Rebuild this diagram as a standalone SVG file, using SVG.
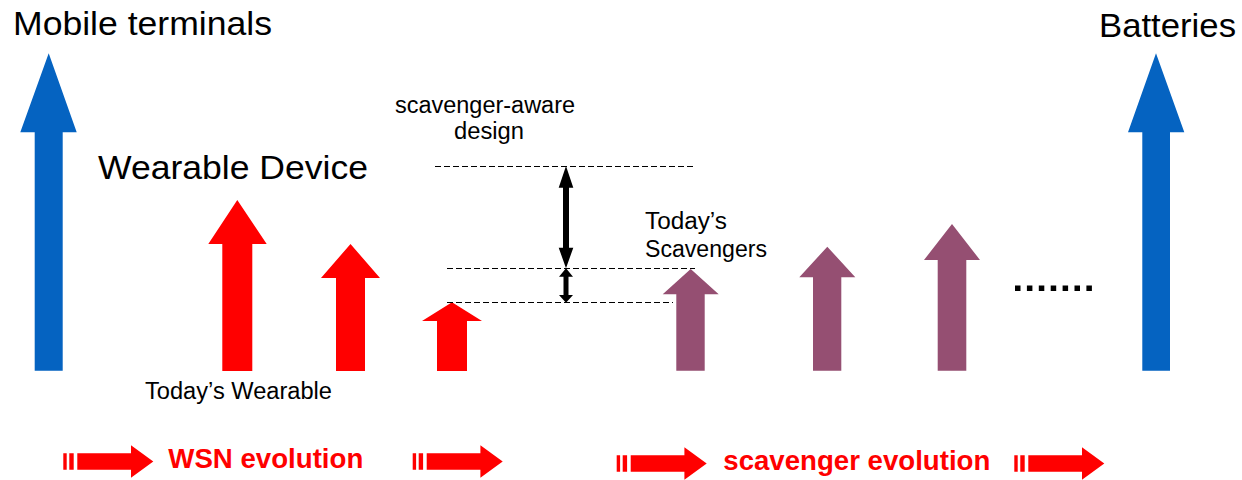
<svg xmlns="http://www.w3.org/2000/svg" width="1242" height="480" viewBox="0 0 1242 480">
  <style>
    .big { font-family: "Liberation Sans", Arial, sans-serif; font-size: 33px; fill: #000; }
    .small { font-family: "Liberation Sans", Arial, sans-serif; font-size: 23px; fill: #000; }
    .evo { font-family: "Liberation Sans", Arial, sans-serif; font-size: 28px; font-weight: bold; fill: #FF0000; }
    .blue { fill: #0563C1; }
    .red { fill: #FF0000; }
    .purple { fill: #954F72; }
    .dash { stroke: #000; stroke-width: 1; stroke-dasharray: 6 3; fill: none; }
    .dim { fill: #000; }
  </style>
  <defs>
    <!-- striped right arrow, origin at left edge of first stripe, vertical centre at 0 -->
    <path id="striped" d="M0,-8.3 H3.4 V8.3 H0 Z M6,-8.3 H10.4 V8.3 H6 Z M14,-8.3 H67.7 V-16.3 L90,0 L67.7,16.3 V8.3 H14 Z"/>
  </defs>

  <!-- reference technologies -->
  <g id="mobile-terminals">
    <polygon class="blue" points="48.7,53.3 76.7,132.3 62.7,132.3 62.7,370.7 34.7,370.7 34.7,132.3 20.3,132.3"/>
    <text class="big" x="13" y="34.5" textLength="259" lengthAdjust="spacingAndGlyphs">Mobile terminals</text>
  </g>
  <g id="batteries">
    <polygon class="blue" points="1156,53.3 1184.3,132.3 1170,132.3 1170,370.7 1142.3,370.7 1142.3,132.3 1128,132.3"/>
    <text class="big" x="1099" y="37" textLength="137" lengthAdjust="spacingAndGlyphs">Batteries</text>
  </g>

  <!-- wearable device demand, shrinking -->
  <g id="wearable-device">
    <polygon class="red" points="237.3,200 266.7,244 252.3,244 252.3,371 222.3,371 222.3,244 208.3,244"/>
    <text class="big" x="98" y="178.5" textLength="270" lengthAdjust="spacingAndGlyphs">Wearable Device</text>
    <text class="small" x="145" y="399" textLength="187" lengthAdjust="spacingAndGlyphs">Today’s Wearable</text>
  </g>
  <g id="wearable-2">
    <polygon class="red" points="350.5,244 380,278 365,278 365,371 336,371 336,278 321,278"/>
  </g>
  <g id="wearable-3">
    <polygon class="red" points="452,302.3 482,321 467,321 467,371 437,371 437,321 422,321"/>
  </g>

  <!-- scavenger supply, growing -->
  <g id="scavenger-1">
    <polygon class="purple" points="690.7,269 718.7,294.3 704.7,294.3 704.7,370.7 676.3,370.7 676.3,294.3 662.7,294.3"/>
    <text class="small" x="645" y="229" textLength="82" lengthAdjust="spacingAndGlyphs">Today’s</text>
    <text class="small" x="645" y="257" textLength="122" lengthAdjust="spacingAndGlyphs">Scavengers</text>
  </g>
  <g id="scavenger-2">
    <polygon class="purple" points="827.3,246.7 855.3,277.3 841.3,277.3 841.3,370.7 813,370.7 813,277.3 799.3,277.3"/>
  </g>
  <g id="scavenger-3">
    <polygon class="purple" points="952,224 980,260 966.3,260 966.3,370.7 937.7,370.7 937.7,260 924,260"/>
  </g>
  <g id="ellipsis">
    <rect x="1015" y="285.5" width="5.5" height="5.5"/>
    <rect x="1026.9" y="285.5" width="5.5" height="5.5"/>
    <rect x="1038.8" y="285.5" width="5.5" height="5.5"/>
    <rect x="1050.7" y="285.5" width="5.5" height="5.5"/>
    <rect x="1062.6" y="285.5" width="5.5" height="5.5"/>
    <rect x="1074.5" y="285.5" width="5.5" height="5.5"/>
    <rect x="1086.4" y="285.5" width="5.5" height="5.5"/>
  </g>

  <g id="scavenger-aware-design">
    <text class="small" x="395" y="113" textLength="180" lengthAdjust="spacingAndGlyphs">scavenger-aware</text>
    <text class="small" x="454" y="139" textLength="70" lengthAdjust="spacingAndGlyphs">design</text>
  </g>

  <!-- level guides and gap dimensions -->
  <g id="connectors">
    <line class="dash" x1="435" y1="166.5" x2="693" y2="166.5"/>
    <line class="dash" x1="447" y1="268.5" x2="695" y2="268.5"/>
    <line class="dash" x1="447" y1="302.5" x2="673" y2="302.5"/>
    <polygon class="dim" points="566,166 573.3,187.7 569,187.7 569,247.7 573.3,247.7 566,268.3 558.7,247.7 563,247.7 563,187.7 558.7,187.7"/>
    <polygon class="dim" points="566,268.3 573,276.7 568.5,276.7 568.5,295 573,295 566,302.7 559,295 563.5,295 563.5,276.7 559,276.7"/>
  </g>

  <!-- evolution timeline -->
  <g id="wsn-evolution">
    <use href="#striped" class="red" transform="translate(63.3,461.5)"/>
    <text class="evo" x="168.3" y="467.7" textLength="195" lengthAdjust="spacingAndGlyphs">WSN evolution</text>
    <use href="#striped" class="red" transform="translate(412.7,461.5)"/>
  </g>
  <g id="scavenger-evolution">
    <use href="#striped" class="red" transform="translate(616.7,463.5)"/>
    <text class="evo" x="723.3" y="470" textLength="267" lengthAdjust="spacingAndGlyphs">scavenger evolution</text>
    <use href="#striped" class="red" transform="translate(1014.3,463.5)"/>
  </g>
</svg>
